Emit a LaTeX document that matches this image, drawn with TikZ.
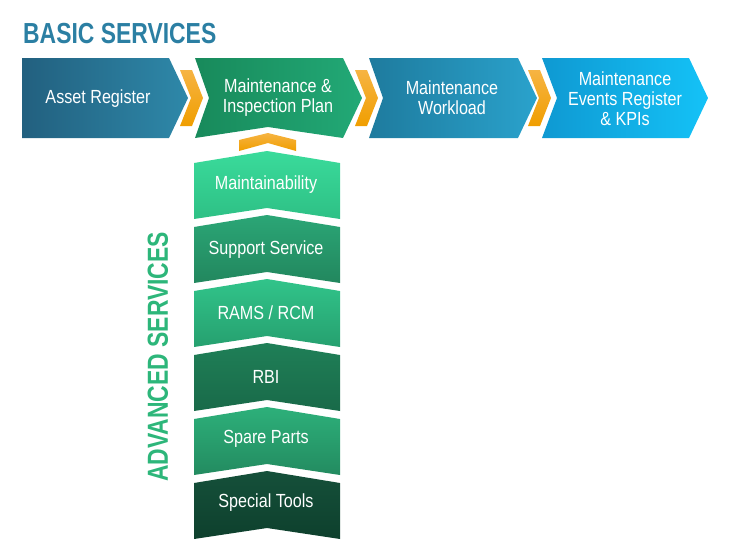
\documentclass[tikz,border=0pt]{standalone}
\usepackage{fontspec}
\setmainfont{Liberation Sans}[FakeStretch=0.85]
\newfontfamily\condbold{Liberation Sans Bold}[FakeStretch=0.79]
\definecolor{titleblue}{HTML}{2B7FA3}
\definecolor{advgreen}{HTML}{2DB67A}
\definecolor{orA}{HTML}{F6B443}
\definecolor{orB}{HTML}{F09E00}
\definecolor{bA1}{HTML}{22607F}\definecolor{bA2}{HTML}{2E88A9}
\definecolor{bB1}{HTML}{188A5B}\definecolor{bB2}{HTML}{22A976}
\definecolor{bC1}{HTML}{1E7B9E}\definecolor{bC2}{HTML}{2AA2CC}
\definecolor{bD1}{HTML}{0F99D2}\definecolor{bD2}{HTML}{14C2F7}
\definecolor{s0a}{HTML}{3ADB9B}\definecolor{s0b}{HTML}{2EC085}
\definecolor{s1a}{HTML}{2BA676}\definecolor{s1b}{HTML}{22875E}
\definecolor{s2a}{HTML}{31C48A}\definecolor{s2b}{HTML}{26A06F}
\definecolor{s3a}{HTML}{1F7F57}\definecolor{s3b}{HTML}{196A49}
\definecolor{s4a}{HTML}{2DB07A}\definecolor{s4b}{HTML}{238B60}
\definecolor{s5a}{HTML}{15503A}\definecolor{s5b}{HTML}{0E402D}
\begin{document}
\begin{tikzpicture}[x=1pt,y=-1pt,
  lbl/.style={text=white, font=\fontsize{19}{20}\selectfont, align=center, inner sep=0pt},
  orangebar/.style={top color=orA, bottom color=orB},
  hbox/.style 2 args={left color=#1, right color=#2},
  vbox/.style 2 args={top color=#1, bottom color=#2}]
\useasboundingbox (0,0) rectangle (730,550);

% title
\node[text=titleblue, font=\condbold\fontsize{29}{30}\selectfont, anchor=base west, inner sep=0pt] (basic) at (23,43) {BASIC SERVICES};

% top row boxes
\path[hbox={bA1}{bA2}] (22,58) -- (169,58) -- (188,98) -- (169,138) -- (22,138) -- cycle;
\path[hbox={bB1}{bB2}] (195,58) -- (343,58) -- (362,98) -- (343,138) -- (268,127) -- (195,138) -- (209,98) -- cycle;
\path[hbox={bC1}{bC2}] (369,58) -- (518,58) -- (537,98) -- (518,138) -- (369,138) -- (383,98) -- cycle;
\path[hbox={bD1}{bD2}] (542,58) -- (689,58) -- (708,98) -- (689,138) -- (542,138) -- (557,98) -- cycle;

% orange chevrons
\foreach \x in {180,355,528}
  \path[orangebar] (\x,70) -- (\x+12,70) -- (\x+23,98) -- (\x+12,126) -- (\x,126) -- (\x+11,98) -- cycle;
\path[orangebar] (239,140) -- (268,133) -- (296,140) -- (296,151) -- (268,143) -- (239,151) -- cycle;

% top labels
\node[lbl, anchor=base] (asset) at (98,103) {Asset Register};
\node[lbl] (plan) at (278,98) {Maintenance \&\\Inspection Plan};
\node[lbl] (workload) at (452,98) {Maintenance\\Workload};
\node[lbl] (events) at (625,98.5) {Maintenance\\Events Register\\\& KPIs};

% stacked advanced boxes
\foreach \i/\ca/\cb in {0/s0a/s0b,1/s1a/s1b,2/s2a/s2b,3/s3a/s3b,4/s4a/s4b,5/s5a/s5b}{
  \pgfmathsetmacro{\yt}{163+64*\i}
  \path[vbox={\ca}{\cb}] (194,\yt) -- (267,\yt-12) -- (340,\yt) -- (340,\yt+56) -- (267,\yt+45) -- (194,\yt+56) -- cycle;
}
\node[lbl, anchor=base] (maint) at (266,189) {Maintainability};
\node[lbl, anchor=base] (support) at (266,254) {Support Service};
\node[lbl, anchor=base] (rams) at (266,319) {RAMS / RCM};
\node[lbl, anchor=base] (rbi) at (266,383) {RBI};
\node[lbl, anchor=base] (spare) at (266,443) {Spare Parts};
\node[lbl, anchor=base] (tools) at (266,507) {Special Tools};

% side title
\node[text=advgreen, font=\condbold\fontsize{29}{30}\selectfont, rotate=90, inner sep=0pt] (advanced) at (158,357) {ADVANCED SERVICES};
\end{tikzpicture}
\end{document}
